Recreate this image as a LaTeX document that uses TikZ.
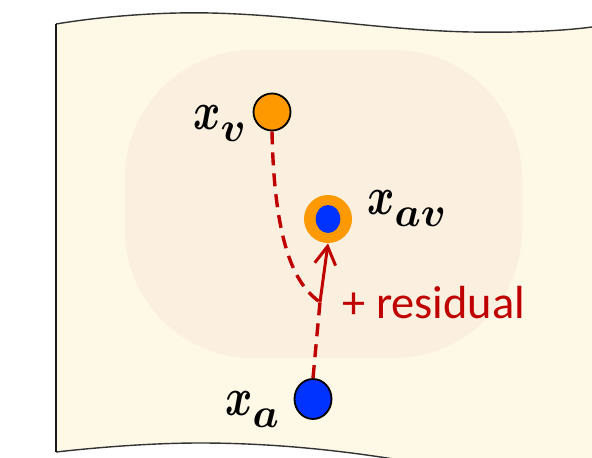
\documentclass[tikz,border=0pt]{standalone}
\usepackage{graphicx}
\usepackage{bm}
\usepackage{fontspec}
\newfontfamily\resfont{Carlito}
\usetikzlibrary{arrows.meta,shapes.geometric}
\definecolor{paper}{HTML}{FEF8E6}
\definecolor{inner}{HTML}{FBF0DF}
\definecolor{dotorange}{HTML}{FF9900}
\definecolor{dotblue}{HTML}{0033FF}
\definecolor{resred}{HTML}{C00000}
\newcommand{\mlab}[2]{\huge\scalebox{1}[1.3]{$\bm{#1}$}\raisebox{-6pt}{$\bm{#2}$}}
\tikzset{
  edgeline/.style={draw=black!80, line width=0.7pt},
  leftline/.style={draw=black!90, line width=1.4pt},
  orangedot/.style={circle, draw=black, line width=0.9pt, fill=dotorange, inner sep=0pt, minimum size=18.5pt},
  bluedot/.style={ellipse, draw=black, line width=0.9pt, fill=dotblue, inner sep=0pt, minimum width=18.5pt, minimum height=20pt},
  ringdot/.style={circle, fill=dotorange, inner sep=0pt, minimum size=24pt},
  coredot/.style={ellipse, fill=dotblue, inner sep=0pt, minimum width=12.3pt, minimum height=14pt},
  mathlabel/.style={inner sep=0pt, anchor=base west},
  reddash/.style={draw=resred, line width=1.7pt, dash pattern=on 6.5pt off 4pt},
  redarrow/.style={draw=resred, line width=1.5pt, -{Straight Barb[length=9pt,width=10.5pt,line width=1.5pt]}},
  reslabel/.style={inner sep=0pt, anchor=base west, text=resred, font=\resfont\fontsize{23.2}{27}\selectfont}
}
\begin{document}
\begin{tikzpicture}[x=0.5pt,y=-0.5pt]
\useasboundingbox (0,0) rectangle (592,458);
% paper
\fill[paper] (56,24) .. controls (110,15) and (170,12) .. (210,13)
  .. controls (300,15) and (380,30) .. (470,32)
  .. controls (530,33) and (570,30) .. (592,27)
  -- (592,460) -- (400,460)
  .. controls (350,452) and (280,443) .. (200,443)
  .. controls (160,443) and (110,446) .. (56,452) -- cycle;
\draw[edgeline] (56,24) .. controls (110,15) and (170,12) .. (210,13)
  .. controls (300,15) and (380,30) .. (470,32)
  .. controls (530,33) and (570,30) .. (592,27);
\draw[edgeline] (400,460) .. controls (350,452) and (280,443) .. (200,443)
  .. controls (160,443) and (110,446) .. (56,452);
\draw[leftline] (56,24) -- (56,452);
% inner region
\fill[inner, rounded corners=64pt] (125,50) rectangle (522,358);
% nodes
\node[orangedot] (xv) at (272,112) {};
\node[ringdot] (xav) at (328,219) {};
\node[coredot] (xavin) at (328,219) {};
\node[bluedot] (xa) at (313,399) {};
\coordinate (m) at (320,302);
% connectors
\draw[reddash] (xv.south) .. controls (274,230) and (290,282) .. (m);
\draw[reddash] (xa.north) -- (m);
\draw[redarrow] (m) -- (xav.south);
% labels
\node[mathlabel] (lv) at (193,130) {\mlab{x}{v}};
\node[mathlabel] (lav) at (367,215) {\mlab{x}{av}};
\node[mathlabel] (la) at (225,415) {\mlab{x}{a}};
\node[reslabel] (res) at (342,318) {+ residual};
\end{tikzpicture}
\end{document}
